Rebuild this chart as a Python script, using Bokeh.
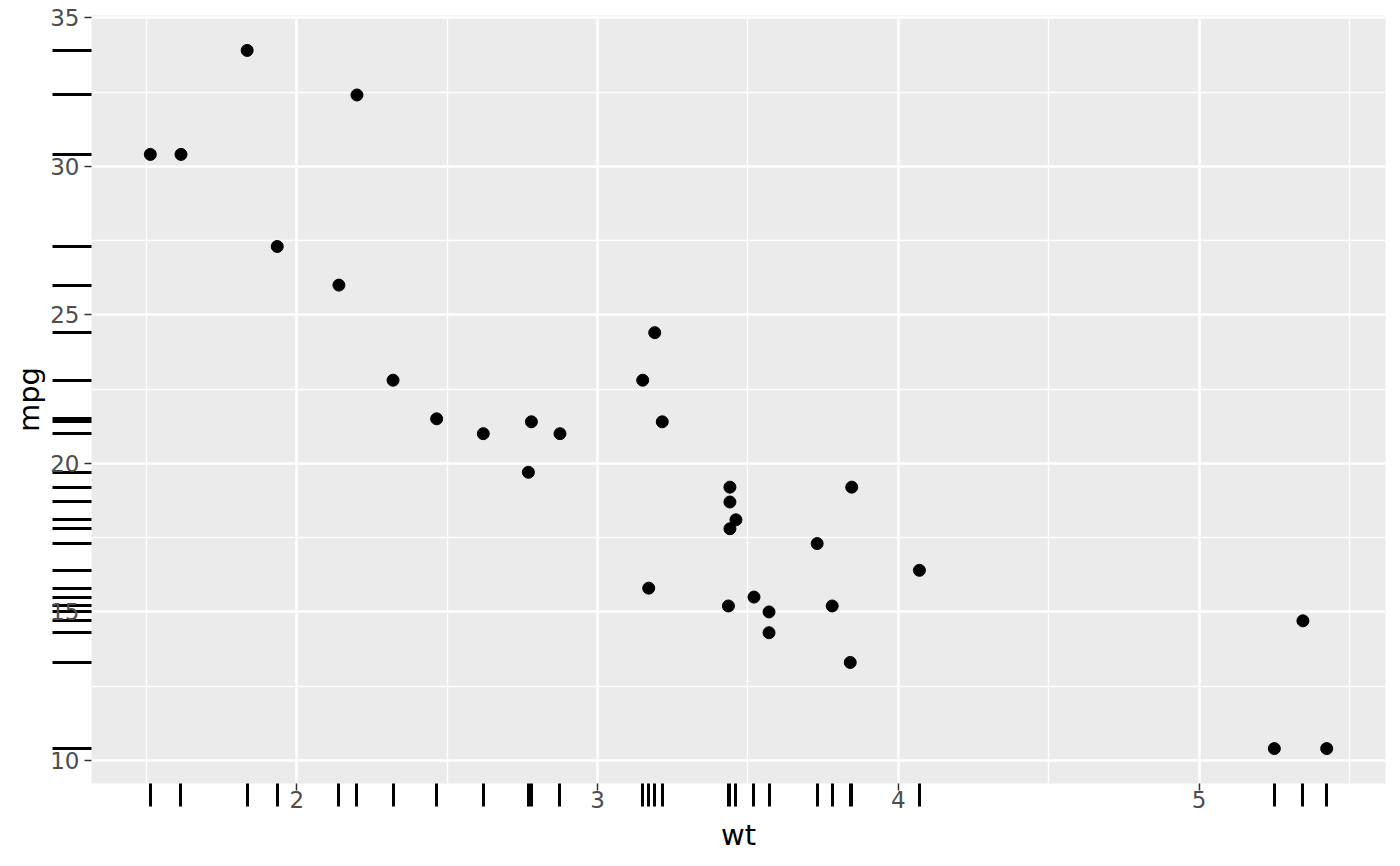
from bokeh.plotting import figure
from bokeh.models import FixedTicker, Range1d
from bokeh.embed import file_html
from bokeh.resources import INLINE

# mtcars: weight (1000 lbs) and miles per gallon
wt = [2.620, 2.875, 2.320, 3.215, 3.440, 3.460, 3.570, 3.190, 3.150, 3.440,
      3.440, 4.070, 3.730, 3.780, 5.250, 5.424, 5.345, 2.200, 1.615, 1.835,
      2.465, 3.520, 3.435, 3.840, 3.845, 1.935, 2.140, 1.513, 3.170, 2.770,
      3.570, 2.780]
mpg = [21.0, 21.0, 22.8, 21.4, 18.7, 18.1, 14.3, 24.4, 22.8, 19.2,
       17.8, 16.4, 17.3, 15.2, 10.4, 10.4, 14.7, 32.4, 30.4, 33.9,
       21.5, 15.5, 15.2, 13.3, 19.2, 27.3, 26.0, 30.4, 15.8, 19.7,
       15.0, 21.4]

x_major = [2, 3, 4, 5]
x_minor = [1.5, 2.5, 3.5, 4.5, 5.5]
y_major = [10, 15, 20, 25, 30, 35]
y_minor = [12.5, 17.5, 22.5, 27.5, 32.5]


def expand(vals, frac=0.05):
    lo, hi = min(vals), max(vals)
    d = (hi - lo) * frac
    return lo - d, hi + d


FONT = "DejaVu Sans"
X_RUG, Y_RUG = 23, 39

p = figure(width=1400, height=866,
           min_border_left=91, min_border_right=15,
           min_border_top=15, min_border_bottom=83,
           x_range=Range1d(*expand(wt)), y_range=Range1d(*expand(mpg)),
           output_backend="svg", toolbar_location=None,
           background_fill_color="#EBEBEB", border_fill_color="white",
           outline_line_color=None)

# grid
p.xgrid.ticker = FixedTicker(ticks=x_major, minor_ticks=x_minor)
p.ygrid.ticker = FixedTicker(ticks=y_major, minor_ticks=y_minor)
for g in (p.xgrid, p.ygrid):
    g.grid_line_color = "white"
    g.grid_line_width = 2.6
    g.minor_grid_line_color = "white"
    g.minor_grid_line_width = 1.3

# axes: major ticks = labelled scale ticks, minor ticks = outside rug
p.xaxis.ticker = FixedTicker(ticks=x_major, minor_ticks=wt)
p.yaxis.ticker = FixedTicker(ticks=y_major, minor_ticks=mpg)

for ax in (p.xaxis, p.yaxis):
    ax.axis_line_color = None
    ax.major_tick_in = 0
    ax.major_tick_out = 7
    ax.major_tick_line_color = "#333333"
    ax.major_tick_line_width = 1.5
    ax.minor_tick_in = 0
    ax.minor_tick_line_color = "black"
    ax.minor_tick_line_width = 3
    ax.major_label_text_font = FONT
    ax.major_label_text_font_size = "23px"
    ax.major_label_text_color = "#4D4D4D"
    ax.axis_label_text_font = FONT
    ax.axis_label_text_font_size = "29px"
    ax.axis_label_text_font_style = "normal"
    ax.axis_label_text_color = "black"

p.xaxis.minor_tick_out = X_RUG
p.yaxis.minor_tick_out = Y_RUG
# labels sit next to the short scale ticks, overlapped by the longer rug
p.xaxis.major_label_standoff = 0 - (X_RUG - 7)
p.yaxis.major_label_standoff = 5 - (Y_RUG - 7)
p.xaxis.axis_label_standoff = 7
p.yaxis.axis_label_standoff = 1
p.xaxis.axis_label = "wt"
p.yaxis.axis_label = "mpg"

p.scatter(wt, mpg, size=12, color="black")

open("out.html", "w").write(file_html(p, INLINE))
